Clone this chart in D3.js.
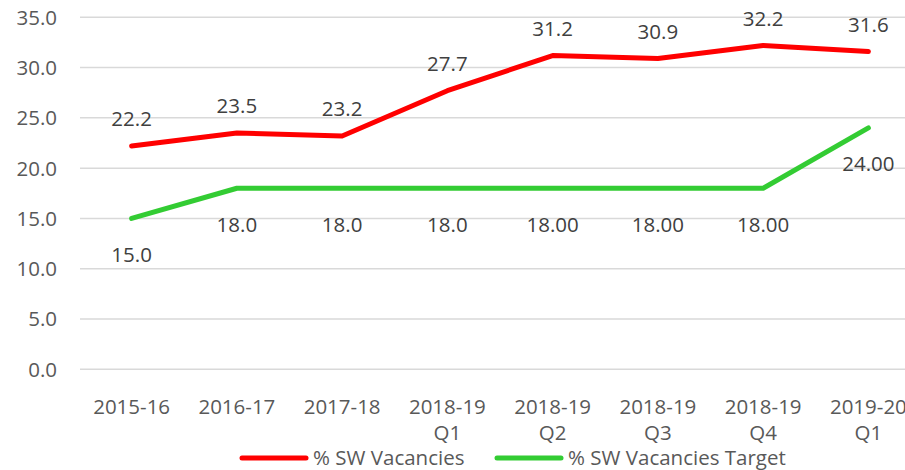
<!DOCTYPE html>
<html>
<head>
<meta charset="utf-8">
<script src="https://cdn.jsdelivr.net/npm/d3@7"></script>
<style>
  body { margin: 0; background: #fff; }
  svg { display: block; font-family: "Open Sans", sans-serif; }
</style>
</head>
<body>
<div id="chart"></div>
<script>
// data
const categories = [
  ["2015-16"], ["2016-17"], ["2017-18"],
  ["2018-19", "Q1"], ["2018-19", "Q2"], ["2018-19", "Q3"], ["2018-19", "Q4"],
  ["2019-20", "Q1"]
];
const vacancies = [22.2, 23.5, 23.2, 27.7, 31.2, 30.9, 32.2, 31.6];
const vacancyLabels = ["22.2", "23.5", "23.2", "27.7", "31.2", "30.9", "32.2", "31.6"];
const target = [15.0, 18.0, 18.0, 18.0, 18.0, 18.0, 18.0, 24.0];
const targetLabels = ["15.0", "18.0", "18.0", "18.0", "18.00", "18.00", "18.00", "24.00"];
const yTicks = [0, 5, 10, 15, 20, 25, 30, 35];

const width = 905, height = 470;
const plotLeft = 79, plotRight = 921, plotTop = 17.3, plotBottom = 369.3;
const fontSize = "20.5px";

const svg = d3.select("#chart").append("svg")
  .attr("width", width)
  .attr("height", height);

const x = d3.scaleBand()
  .domain(d3.range(categories.length))
  .range([plotLeft, plotRight]);

const y = d3.scaleLinear()
  .domain([0, 35])
  .range([plotBottom, plotTop]);

const cx = (i) => x(i) + x.bandwidth() / 2;

// gridlines
svg.append("g")
  .selectAll("line")
  .data(yTicks)
  .join("line")
  .attr("x1", plotLeft + 1)
  .attr("x2", width)
  .attr("y1", (d) => y(d))
  .attr("y2", (d) => y(d))
  .attr("stroke", "#d9d9d9")
  .attr("stroke-width", 1.5);

// y tick labels
svg.append("g")
  .selectAll("text")
  .data(yTicks)
  .join("text")
  .attr("x", 57)
  .attr("y", (d) => y(d))
  .attr("dy", "0.36em")
  .attr("text-anchor", "end")
  .attr("fill", "#595959")
  .style("font-size", fontSize)
  .text((d) => d.toFixed(1));

// x tick labels (two lines where needed)
const xt = svg.append("g")
  .selectAll("text")
  .data(categories)
  .join("text")
  .attr("text-anchor", "middle")
  .attr("fill", "#595959")
  .style("font-size", fontSize);

xt.selectAll("tspan")
  .data((d, i) => d.map((t) => ({ t, i })))
  .join("tspan")
  .attr("x", (d) => cx(d.i))
  .attr("y", (d, j) => 407 + j * 26)
  .attr("dy", "0.36em")
  .text((d) => d.t);

const line = d3.line()
  .x((d, i) => cx(i))
  .y((d) => y(d));

svg.append("path")
  .datum(target)
  .attr("d", line)
  .attr("fill", "none")
  .attr("stroke", "#33cc33")
  .attr("stroke-width", 5)
  .attr("stroke-linejoin", "round")
  .attr("stroke-linecap", "round");

svg.append("path")
  .datum(vacancies)
  .attr("d", line)
  .attr("fill", "none")
  .attr("stroke", "#ff0000")
  .attr("stroke-width", 5)
  .attr("stroke-linejoin", "round")
  .attr("stroke-linecap", "round");

// data labels
svg.append("g")
  .selectAll("text")
  .data(vacancies)
  .join("text")
  .attr("x", (d, i) => cx(i))
  .attr("y", (d) => y(d) - 27)
  .attr("dy", "0.36em")
  .attr("text-anchor", "middle")
  .attr("fill", "#404040")
  .style("font-size", fontSize)
  .text((d, i) => vacancyLabels[i]);

svg.append("g")
  .selectAll("text")
  .data(target)
  .join("text")
  .attr("x", (d, i) => cx(i))
  .attr("y", (d) => y(d) + 36)
  .attr("dy", "0.36em")
  .attr("text-anchor", "middle")
  .attr("fill", "#404040")
  .style("font-size", fontSize)
  .text((d, i) => targetLabels[i]);

// legend
const legendItems = [
  { name: "% SW Vacancies", color: "#ff0000", x0: 242 },
  { name: "% SW Vacancies Target", color: "#33cc33", x0: 497 }
];
const lg = svg.append("g")
  .selectAll("g")
  .data(legendItems)
  .join("g")
  .attr("transform", (d) => `translate(${d.x0},458)`);

lg.append("line")
  .attr("x1", 0)
  .attr("x2", 64)
  .attr("stroke", (d) => d.color)
  .attr("stroke-width", 5)
  .attr("stroke-linecap", "round");

lg.append("text")
  .attr("x", 71)
  .attr("dy", "0.36em")
  .attr("fill", "#595959")
  .style("font-size", fontSize)
  .text((d) => d.name);
</script>
</body>
</html>
